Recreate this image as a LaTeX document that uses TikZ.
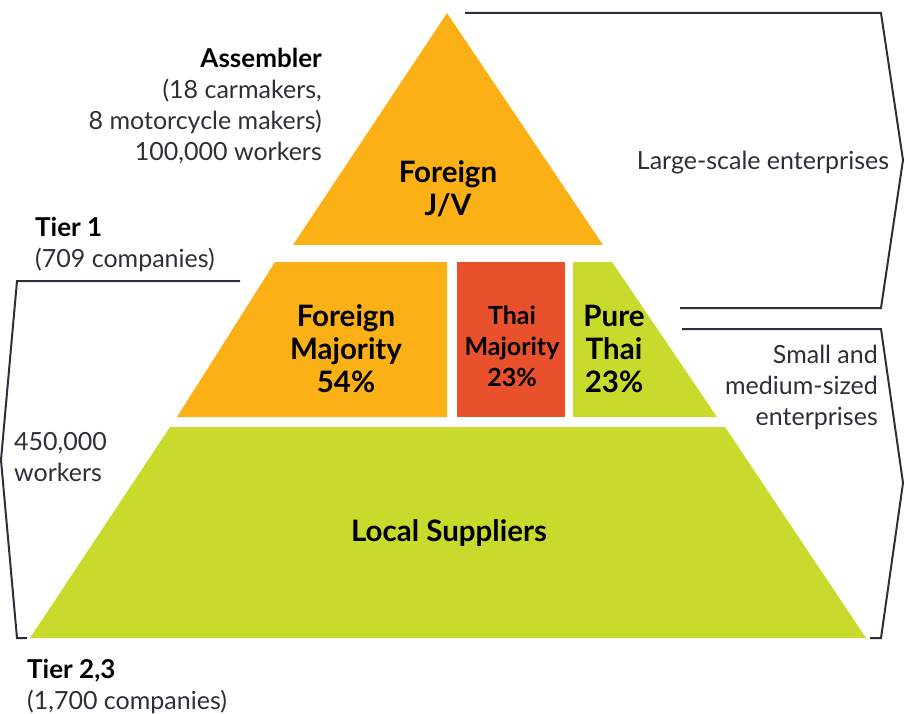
\documentclass[tikz,border=0pt]{standalone}
\usepackage{fontspec}
\setmainfont{Lato}
\definecolor{porange}{HTML}{FBB116}
\definecolor{pred}{HTML}{E8512B}
\definecolor{pgreen}{HTML}{C8DA2B}
\definecolor{txt}{HTML}{2E2E3A}
\newcommand{\hdfont}{\fontsize{26}{32}\bfseries\selectfont\color{black}}
\begin{document}
\begin{tikzpicture}[x=1pt,y=-1pt,
  lbl/.style={font=\fontsize{25}{31}\selectfont, text=txt, inner sep=0pt},
  hd/.style={font=\fontsize{29.5}{33}\bfseries\selectfont, text=black, inner sep=0pt, align=center},
  seg/.style={line width=2pt, draw=txt, line join=miter}]
\useasboundingbox (0,0) rectangle (905,714);
% pyramid
\fill[porange] (447,13) -- (603,245) -- (293,245) -- cycle;
\fill[porange] (275,262) -- (447,262) -- (447,417) -- (177,417) -- cycle;
\fill[pred] (457,262) rectangle (565,417);
\fill[pgreen] (573,262) -- (612,262) -- (717,417) -- (573,417) -- cycle;
\fill[pgreen] (170,427) -- (725,427) -- (866,638) -- (30,638) -- cycle;
% brackets
\draw[seg] (465,13) -- (881,13) -- (903,160) -- (881,308) -- (680,308);
\draw[seg] (682,329) -- (881,329) -- (903,483) -- (881,638) -- (870,638);
\draw[seg] (240,281) -- (17,281) -- (1,460) -- (17,638) -- (27,638);
% labels
\node[lbl, align=right, anchor=east] (asm) at (322,106)
  {{\hdfont Assembler}\\(18 carmakers,\\8 motorcycle makers)\\100,000 workers};
\node[lbl, align=left, anchor=west] (t1) at (35,245)
  {{\hdfont Tier 1}\\(709 companies)};
\node[hd] (jv) at (448,189) {Foreign\\J/V};
\node[hd] (fm) at (346,349) {Foreign\\Majority\\54\%};
\node[hd, font=\fontsize{25}{31}\bfseries\selectfont] (tm) at (512,346) {Thai\\Majority\\23\%};
\node[hd] (pt) at (614,349) {Pure\\Thai\\23\%};
\node[lbl] (large) at (763,163) {Large-scale enterprises};
\node[lbl, align=right, anchor=east] (sme) at (878,387) {Small and\\medium-sized\\enterprises};
\node[lbl, align=left, anchor=west] (w450) at (14,457) {450,000\\workers};
\node[hd] (local) at (449,533) {Local Suppliers};
\node[lbl, align=left, anchor=west] (t23) at (27,686)
  {{\hdfont Tier 2,3}\\(1,700 companies)};
\end{tikzpicture}
\end{document}
